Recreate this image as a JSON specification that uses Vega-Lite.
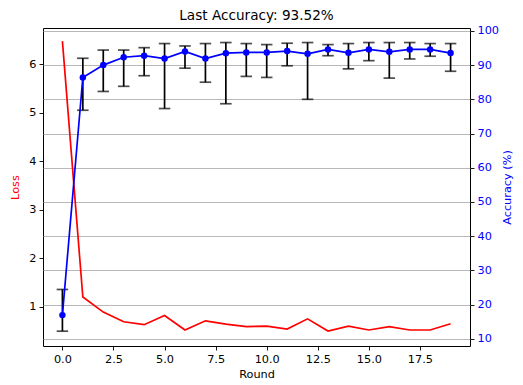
{
  "$schema": "https://vega.github.io/schema/vega-lite/v6.json",
  "width": 427,
  "height": 318,
  "autosize": {"type": "none"},
  "padding": {"left": 43, "top": 28, "right": 53, "bottom": 39},
  "background": "white",
  "title": {"text": "Last Accuracy: 93.52%", "font": "DejaVu Sans", "fontSize": 13.6, "fontWeight": "normal", "color": "black", "anchor": "middle", "frame": "group", "offset": 2},
  "config": {
    "view": {"stroke": "black", "strokeWidth": 1},
    "axis": {"labelFont": "DejaVu Sans", "titleFont": "DejaVu Sans", "labelFontSize": 11.3, "titleFontSize": 11.3, "titleFontWeight": "normal", "domain": false, "tickColor": "black", "tickSize": 4, "tickWidth": 0.9, "labelColor": "black", "titleColor": "black", "labelPadding": 3}
  },
  "data": {"values": [
    {"round": 0, "loss": 6.48, "acc": 16.9, "lo": 12.2, "hi": 24.4},
    {"round": 1, "loss": 1.20, "acc": 86.4, "lo": 76.8, "hi": 92.0},
    {"round": 2, "loss": 0.89, "acc": 90.0, "lo": 82.3, "hi": 94.4},
    {"round": 3, "loss": 0.69, "acc": 92.3, "lo": 83.8, "hi": 94.4},
    {"round": 4, "loss": 0.63, "acc": 92.75, "lo": 86.9, "hi": 95.1},
    {"round": 5, "loss": 0.82, "acc": 91.9, "lo": 77.3, "hi": 96.3},
    {"round": 6, "loss": 0.52, "acc": 94.0, "lo": 89.1, "hi": 95.6},
    {"round": 7, "loss": 0.71, "acc": 91.9, "lo": 85.0, "hi": 96.3},
    {"round": 8, "loss": 0.64, "acc": 93.5, "lo": 78.7, "hi": 96.6},
    {"round": 9, "loss": 0.59, "acc": 93.7, "lo": 86.7, "hi": 96.3},
    {"round": 10, "loss": 0.60, "acc": 93.7, "lo": 86.4, "hi": 96.0},
    {"round": 11, "loss": 0.54, "acc": 94.1, "lo": 89.8, "hi": 96.4},
    {"round": 12, "loss": 0.75, "acc": 93.3, "lo": 80.0, "hi": 96.6},
    {"round": 13, "loss": 0.50, "acc": 94.6, "lo": 92.75, "hi": 96.0},
    {"round": 14, "loss": 0.60, "acc": 93.6, "lo": 88.9, "hi": 96.3},
    {"round": 15, "loss": 0.52, "acc": 94.6, "lo": 91.3, "hi": 96.6},
    {"round": 16, "loss": 0.59, "acc": 93.9, "lo": 86.2, "hi": 96.6},
    {"round": 17, "loss": 0.52, "acc": 94.6, "lo": 91.8, "hi": 96.6},
    {"round": 18, "loss": 0.52, "acc": 94.6, "lo": 92.6, "hi": 96.3},
    {"round": 19, "loss": 0.65, "acc": 93.52, "lo": 88.2, "hi": 96.3}
  ]},
  "encoding": {
    "x": {"field": "round", "type": "quantitative", "scale": {"domain": [-0.95, 19.95], "nice": false, "zero": false},
      "axis": {"values": [0, 2.5, 5, 7.5, 10, 12.5, 15, 17.5], "format": ".1f", "grid": false, "title": "Round", "titlePadding": 4}}
  },
  "layer": [
    {
      "mark": {"type": "line", "color": "red", "strokeWidth": 1.7},
      "encoding": {
        "y": {"field": "loss", "type": "quantitative", "scale": {"domain": [0.19, 6.75], "nice": false, "zero": false},
          "axis": {"orient": "left", "values": [1, 2, 3, 4, 5, 6], "grid": false, "title": "Loss", "titleColor": "red", "titlePadding": 8}}
      }
    },
    {
      "encoding": {
        "y": {"field": "acc", "type": "quantitative", "scale": {"domain": [7.87, 100.85], "nice": false, "zero": false},
          "axis": {"orient": "right", "values": [10, 20, 30, 40, 50, 60, 70, 80, 90, 100], "grid": true, "gridColor": "#b0b0b0", "gridWidth": 0.9, "labelColor": "blue", "title": "Accuracy (%)", "titleColor": "blue", "titleAngle": 270, "titleBaseline": "bottom", "titlePadding": 14}}
      },
      "layer": [
        {
          "mark": {"type": "rule", "color": "black", "strokeWidth": 1.7},
          "encoding": {"y": {"field": "lo", "type": "quantitative"}, "y2": {"field": "hi"}}
        },
        {
          "mark": {"type": "tick", "orient": "horizontal", "color": "black", "size": 11.5, "thickness": 1.7},
          "encoding": {"y": {"field": "lo", "type": "quantitative"}}
        },
        {
          "mark": {"type": "tick", "orient": "horizontal", "color": "black", "size": 11.5, "thickness": 1.7},
          "encoding": {"y": {"field": "hi", "type": "quantitative"}}
        },
        {
          "mark": {"type": "line", "color": "blue", "strokeWidth": 1.7},
          "encoding": {}
        },
        {
          "mark": {"type": "point", "filled": true, "color": "blue", "opacity": 1, "size": 42},
          "encoding": {}
        }
      ]
    }
  ],
  "resolve": {"scale": {"y": "independent"}, "axis": {"y": "independent"}}
}
